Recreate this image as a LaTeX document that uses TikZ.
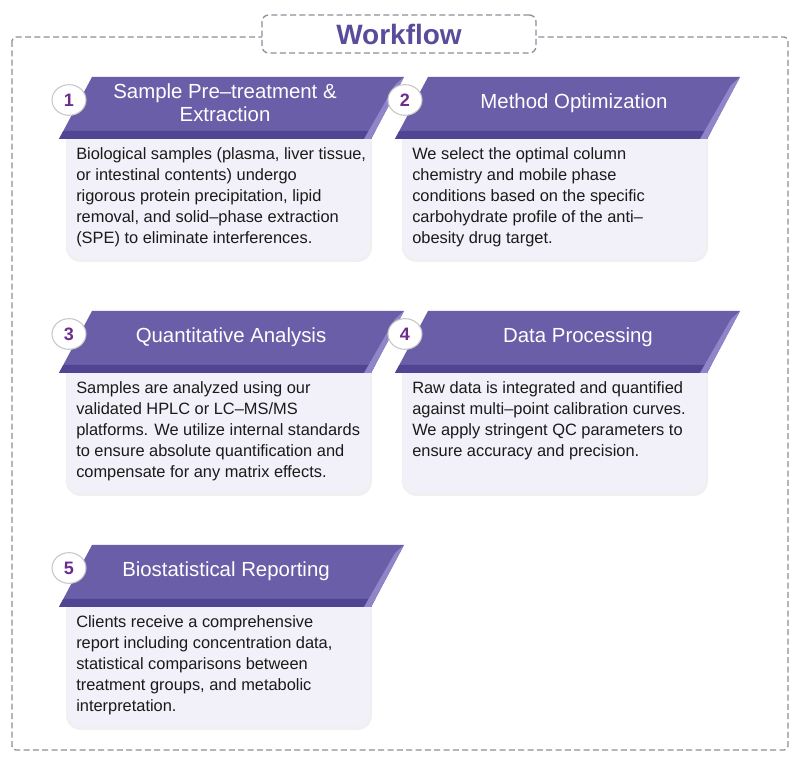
\documentclass[tikz,border=0pt]{standalone}
\usepackage{fontspec}
\setmainfont{Liberation Sans}
\usetikzlibrary{shapes.geometric}
\definecolor{bannerc}{HTML}{6A5EA8}
\definecolor{bannerdark}{HTML}{504592}
\definecolor{bannerlight}{HTML}{8E86C8}
\definecolor{bodyc}{HTML}{F2F0F8}
\definecolor{numc}{HTML}{6B2C8E}
\definecolor{framec}{HTML}{8E8E9C}
\definecolor{titlec}{HTML}{5A4C9A}
\definecolor{textc}{HTML}{1A1A1A}
\tikzset{
  badge/.style={ellipse, draw=black!22, line width=0.8pt, fill=white,
    minimum width=25.5pt, minimum height=23pt, inner sep=0pt,
    text=numc, font=\fontsize{13.5}{13.5}\selectfont\bfseries},
  titletext/.style={text=white, align=center, inner sep=0pt,
    font=\fontsize{15.3}{17.5}\selectfont},
  bodytext/.style={text=textc, align=left, inner sep=0pt,
    font=\fontsize{12.3}{15.9}\selectfont},
  framebox/.style={draw=framec, line width=1pt, dash pattern=on 4.5pt off 2.5pt}
}
% #1 X, #2 Y, #3 id, #4 number, #5 title, #6 body, #7 title x offset
\newcommand\wfcard[7]{%
  \begin{scope}[shift={(#1,#2)}]
    \fill[black!6, rounded corners=11pt] (-26,50) rectangle (280,185);
    \fill[bodyc, rounded corners=11pt] (-25,50) rectangle (278,182);
    \fill[bannerc] (0,0) -- (312,0) -- (279,62) -- (-33,62) -- cycle;
    \fill[bannerdark] (-28.7,54) -- (283.3,54) -- (279,62) -- (-33,62) -- cycle;
    \fill[bannerlight] (312,0) -- (279,62) -- (272,62) -- (303,8) -- cycle;
    \node[badge] (n#3) at (-23,23) {#4};
    \node[titletext] (t#3) at (#7,26) {#5};
    \node[bodytext, anchor=north west] (d#3) at (-16,70) {#6};
  \end{scope}}
\begin{document}
\begin{tikzpicture}[x=0.75pt, y=-0.75pt]
  \useasboundingbox[fill=white] (0,0) rectangle (800,762);
  \draw[framebox, rounded corners=3pt] (12,37) rectangle (788,750);
  \node[framebox, fill=white, rounded corners=5pt, minimum width=205.5pt,
    minimum height=28.5pt, text=titlec, font=\fontsize{21}{21}\selectfont\bfseries]
    (title) at (399,34) {Workflow};
  \wfcard{92}{77}{1}{1}{Sample Pre–treatment \&\\Extraction}{Biological samples (plasma, liver tissue,\\or intestinal contents) undergo\\rigorous protein precipitation, lipid\\removal, and solid–phase extraction\\(SPE) to eliminate interferences.}{133}
  \wfcard{428}{77}{2}{2}{Method Optimization}{We select the optimal column\\chemistry and mobile phase\\conditions based on the specific\\carbohydrate profile of the anti–\\obesity drug target.}{146}
  \wfcard{92}{311}{3}{3}{Quantitative Analysis}{Samples are analyzed using our\\validated HPLC or LC–MS/MS\\platforms. We utilize internal standards\\to ensure absolute quantification and\\compensate for any matrix effects.}{139}
  \wfcard{428}{311}{4}{4}{Data Processing}{Raw data is integrated and quantified\\against multi–point calibration curves.\\We apply stringent QC parameters to\\ensure accuracy and precision.}{150}
  \wfcard{92}{545}{5}{5}{Biostatistical Reporting}{Clients receive a comprehensive\\report including concentration data,\\statistical comparisons between\\treatment groups, and metabolic\\interpretation.}{134}
\end{tikzpicture}
\end{document}
